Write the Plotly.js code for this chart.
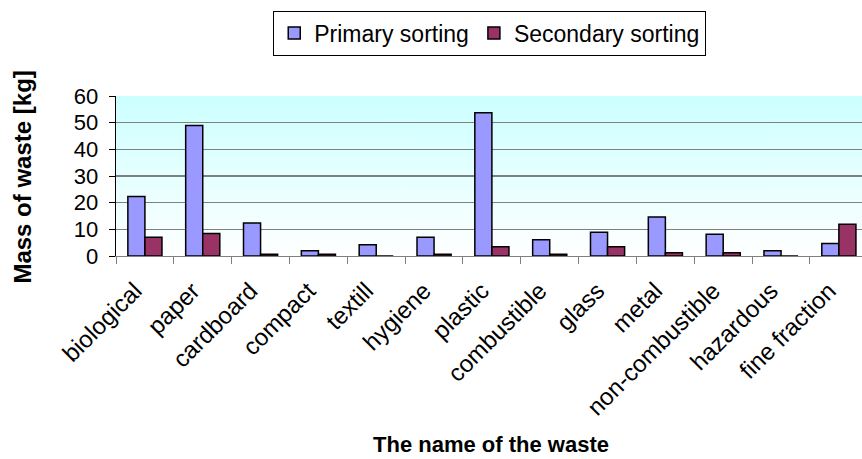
<!DOCTYPE html>
<html><head><meta charset="utf-8">
<script src="https://cdn.plot.ly/plotly-3.0.1.min.js"></script>
<style>html,body{margin:0;padding:0;background:#fff;overflow:hidden}</style>
</head><body>
<div id="chart" style="width:862px;height:459px"></div>
<script>
const categories = ["biological","paper","cardboard","compact","textill","hygiene","plastic","combustible","glass","metal","non-combustible","hazardous","fine fraction"];
const primarySorting = [22.3, 48.9, 12.4, 2.0, 4.2, 7.0, 53.7, 6.1, 8.9, 14.6, 8.2, 2.0, 4.7];
const secondarySorting = [7.0, 8.4, 0.7, 0.7, 0, 0.7, 3.5, 0.7, 3.5, 1.2, 1.2, 0, 11.9];
const seriesNames = ["Primary sorting", "Secondary sorting"];
const yTicks = [0, 10, 20, 30, 40, 50, 60];
const xTitle = "The name of the waste";
const yTitle = "Mass of waste [kg]";

// vertical gradient background image
const cv = document.createElement('canvas');
cv.width = 4; cv.height = 200;
const ctx = cv.getContext('2d');
const g = ctx.createLinearGradient(0, 0, 0, 200);
g.addColorStop(0, '#CCFFFF');
g.addColorStop(1, '#FFFFFF');
ctx.fillStyle = g; ctx.fillRect(0, 0, 4, 200);
const bgURL = cv.toDataURL();

const FONT = 'Arial, "Liberation Sans", sans-serif';
const line = {color: '#000', width: 1.5};

const traces = [
  {type: 'bar', name: seriesNames[0], x: categories, y: primarySorting,
   marker: {color: '#9999FF', line: line}},
  {type: 'bar', name: seriesNames[1], x: categories, y: secondarySorting,
   marker: {color: '#993366', line: line}}
];

const layout = {
  width: 862, height: 459,
  margin: {l: 116, r: 0, t: 95.5, b: 203.3, pad: 0},
  paper_bgcolor: '#fff',
  plot_bgcolor: 'rgba(0,0,0,0)',
  font: {family: FONT, color: '#000', size: 22},
  barmode: 'group', bargap: 0.41, bargroupgap: 0,
  showlegend: true,
  legend: {
    orientation: 'h', x: 0.501, xanchor: 'center', y: 1.534, yanchor: 'top',
    bgcolor: '#fff', bordercolor: '#000', borderwidth: 1,
    font: {family: FONT, size: 23, color: '#000'},
    itemwidth: 30, tracegroupgap: 0
  },
  images: [{source: bgURL, xref: 'paper', yref: 'paper', x: 0, y: 1,
            sizex: 1, sizey: 1, sizing: 'stretch', layer: 'below', xanchor: 'left', yanchor: 'top'}],
  xaxis: {
    type: 'category', range: [-0.5, 12.4],
    tickangle: -45, tickson: 'boundaries', ticks: 'outside', ticklen: 7,
    tickcolor: '#808080', tickwidth: 1,
    ticklabelstandoff: 10, ticklabelshift: -10,
    showgrid: false, showline: true, linecolor: '#808080', linewidth: 1.3,
    tickfont: {family: FONT, size: 24, color: '#000'}
  },
  yaxis: {
    range: [0, 60], tickvals: yTicks, ticktext: yTicks.map(String),
    ticks: 'outside', ticklen: 6, tickcolor: '#000', tickwidth: 1,
    ticklabelstandoff: 6,
    showgrid: true, gridcolor: '#808080', gridwidth: 1.3,
    zeroline: false, showline: true, linecolor: '#000', linewidth: 1.3,
    tickfont: {family: FONT, size: 22, color: '#000'}
  },
  annotations: [
    {text: xTitle, xref: 'paper', yref: 'paper', x: 0.503, y: -1.178,
     xanchor: 'center', yanchor: 'middle', showarrow: false,
     font: {family: FONT, size: 22, color: '#000', weight: 'bold'}},
    {text: yTitle, xref: 'paper', yref: 'paper', x: 0, y: 0.49, xshift: -93,
     xanchor: 'center', yanchor: 'middle', textangle: -90, showarrow: false,
     font: {family: FONT, size: 24, color: '#000', weight: 'bold'}}
  ]
};

Plotly.newPlot('chart', traces, layout, {displayModeBar: false, staticPlot: true});
</script>
</body></html>
